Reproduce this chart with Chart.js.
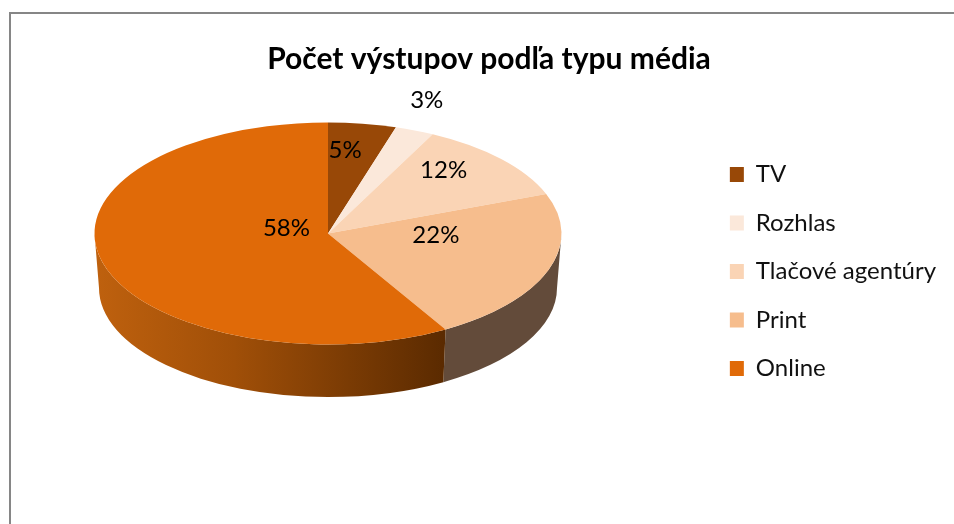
<!DOCTYPE html>
<html lang="sk">
<head>
<meta charset="utf-8">
<title>Počet výstupov podľa typu média</title>
<script src="https://cdn.jsdelivr.net/npm/chart.js@4"></script>
<style>
  html, body { margin: 0; padding: 0; background: #fff; overflow: hidden; }
  #frame { position: absolute; left: 9px; top: 12px; width: 1000px; height: 600px;
           border-left: 2px solid #868686; border-top: 2px solid #868686; }
  #chart { position: absolute; left: 0; top: 0; }
</style>
</head>
<body>
<div id="frame"></div>
<canvas id="chart" width="954" height="524"></canvas>
<script>
const titleText = "Počet výstupov podľa typu média";
const categories = ["TV", "Rozhlas", "Tlačové agentúry", "Print", "Online"];
// the chart only prints whole percents, decimals
const shares = [4.7, 2.7, 11.8, 22.4, 58.4];
const sliceColors = ["#984807", "#FBE8DA", "#FAD4B5", "#F6BD8D", "#E06A08"];

// the flattened disc on the page, Chart.js draws a plain circle and this squeezes it
const disc = { cx: 328, cy: 233.5, rx: 233.5, ry: 111 };
const base = { cy: 288, rx: 229, ry: 109 };
// label centres as fractions of the disc radii, from the centre
const labelSpots = [[0.073, -0.75], [0.423, -1.2], [0.495, -0.572], [0.462, 0.0135], [-0.178, -0.05]];

const FONT = "Lato, 'Open Sans', sans-serif";

function sideFill(ctx, i) {
  const g = ctx.createLinearGradient(disc.cx - disc.rx, 0, disc.cx + disc.rx, 0);
  if (i === 4) {
    g.addColorStop(0, "#BF610E");
    g.addColorStop(0.3, "#A04F08");
    g.addColorStop(0.78, "#562800");
    g.addColorStop(1, "#562800");
    return g;
  }
  return "#634B3A";
}

const pie3d = {
  id: "pie3d",
  afterLayout(chart) {
    chart.legend.left -= 8;
    chart.legend.top += 43;
    chart.legend.bottom += 43;
  },
  beforeDatasetsDraw(chart) {
    const ctx = chart.ctx;
    const arcs = chart.getDatasetMeta(0).data;

    // side wall, only the part of each slice that faces the viewer
    arcs.forEach((arc, i) => {
      const { startAngle, endAngle } = arc.getProps(["startAngle", "endAngle"]);
      const a0 = Math.max(startAngle, 0);
      const a1 = Math.min(endAngle, Math.PI);
      if (a1 <= a0) return;
      ctx.beginPath();
      ctx.ellipse(disc.cx, disc.cy, disc.rx, disc.ry, 0, a0, a1);
      ctx.ellipse(disc.cx, base.cy, base.rx, base.ry, 0, a1, a0, true);
      ctx.closePath();
      ctx.fillStyle = sideFill(ctx, i);
      ctx.fill();
    });

    const { x, y, outerRadius } = arcs[0].getProps(["x", "y", "outerRadius"]);
    ctx.save();
    ctx.translate(disc.cx, disc.cy);
    ctx.scale(disc.rx / outerRadius, disc.ry / outerRadius);
    ctx.translate(-x, -y);
  },
  afterDatasetsDraw(chart) {
    const ctx = chart.ctx;
    ctx.restore();

    const total = shares.reduce((a, b) => a + b, 0);
    ctx.save();
    ctx.font = "24px " + FONT;
    ctx.fillStyle = "#000";
    ctx.textAlign = "center";
    ctx.textBaseline = "middle";
    shares.forEach((v, i) => {
      const text = Math.round((v / total) * 100) + "%";
      ctx.fillText(text, disc.cx + labelSpots[i][0] * disc.rx, disc.cy + labelSpots[i][1] * disc.ry);
    });
    ctx.restore();
  },
};

const chart = new Chart(document.getElementById("chart"), {
  type: "pie",
  data: {
    labels: categories,
    datasets: [
      {
        data: shares,
        backgroundColor: sliceColors,
        borderWidth: 0,
      },
    ],
  },
  options: {
    responsive: false,
    animation: false,
    layout: {
      padding: { left: 24, bottom: 67 },
    },
    plugins: {
      title: {
        display: true,
        text: titleText,
        color: "#000",
        font: { family: FONT, size: 30, weight: "bold" },
        padding: { top: 41, bottom: 8 },
      },
      legend: {
        display: true,
        position: "right",
        labels: {
          color: "#111",
          font: { family: FONT, size: 24 },
          boxWidth: 14,
          boxHeight: 15,
          padding: 24.5,
        },
      },
      tooltip: { enabled: false },
    },
  },
  plugins: [pie3d],
});
</script>
</body>
</html>
